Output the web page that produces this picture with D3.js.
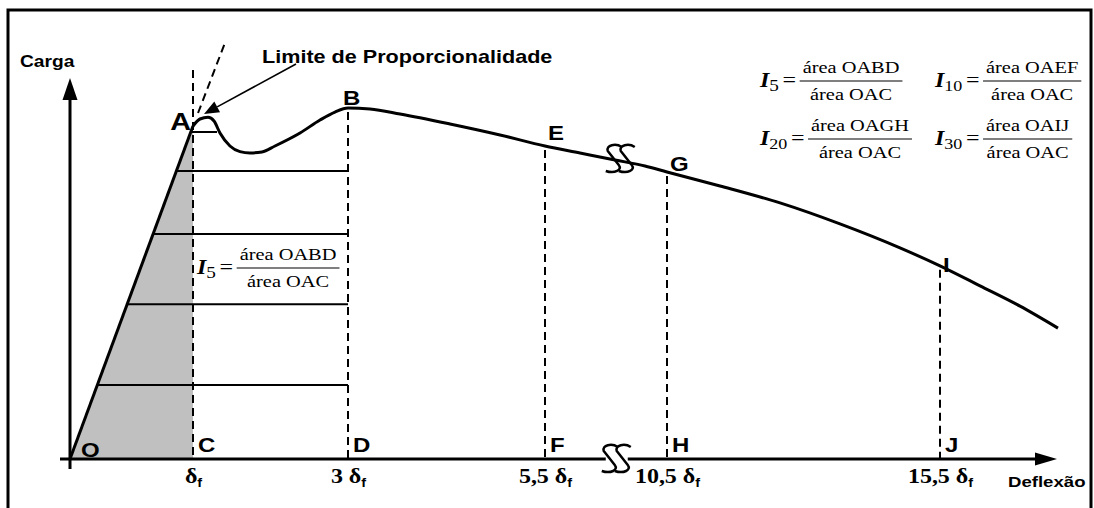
<!DOCTYPE html>
<html><head><meta charset="utf-8">
<script src="https://cdn.jsdelivr.net/npm/d3@7"></script>
<style>
html,body{margin:0;padding:0;background:#fff;}
svg{display:block;}
</style></head><body>
<svg id="chart" width="1094" height="508"></svg>
<script>
// Load–deflection curve: deflection in multiples of δf, load in % of the first-crack load (point A)
const curveDefl = [0, 1, 1.09, 1.194, 1.271, 1.348, 1.477, 1.606, 1.735, 1.89, 2.058, 2.381, 2.639, 2.832, 3,
  3.279, 3.66, 4.294, 4.929, 5.5, 6.934, 8.369, 9.598, 10.5, 11.471, 12.57, 13.668, 14.767, 15.5, 16.233, 16.966, 17.661];
const curveLoad = [0, 100, 102.1, 102.6, 101.5, 97.9, 94.0, 92.3, 91.9, 92.2, 94.0, 97.9, 101.8, 104.2, 105.4,
  105.1, 103.6, 100.6, 97.3, 94.0, 91.9, 89.8, 88.0, 86.2, 82.0, 76.9, 70.6, 63.4, 58.0, 52.0, 45.9, 39.3];

// Deflection marks on the axis
const tickValues = [1, 3, 5.5, 10.5, 15.5];
const tickNumbers = ["", "3", "5,5", "10,5", "15,5"];
const baseLetters = ["C", "D", "F", "H", "J"];
const curveLetters = ["A", "B", "E", "G", "I"];

// Horizontal hatching of the area under the curve (load levels) and their right ends
const hatchLoads = [22.2, 46.5, 67.6, 86.5, 98.2];
const hatchEnds = [3, 3, 3, 3, 1.31];

// Dashed extension of the linear branch and the "limit of proportionality" pointer
const tangentDefl = [1.065, 1.426];
const tangentLoad = [103.9, 125.8];
const pointerDefl = [2.329, 1.142];
const pointerLoad = [118.6, 103.6];
const breakDefl = 8.4;
const cTopLoad = 116.8;

// Toughness index definitions
const indexSubs = ["5", "10", "20", "30"];
const indexNums = ["área OABD", "área OAEF", "área OAGH", "área OAIJ"];
const indexDen = "área OAC";

const SX = 1.2;              // horizontal stretch of lettering
const SANS = "'Liberation Sans', Arial, sans-serif";
const SERIF = "'Liberation Serif', 'Times New Roman', serif";

const svg = d3.select("#chart");
const x = d3.scaleLinear().domain([0, 1, 3, 5.5, 10.5, 15.5, 18]).range([70, 193, 348, 545, 667, 940, 1076.5]);
const y = d3.scaleLinear().domain([0, 100]).range([459, 126]);

const pts = curveDefl.map((d, i) => [d, curveLoad[i]]);
const loadAt = d => curveLoad[curveDefl.indexOf(d)];
// linear branch O-A: deflection proportional to load
const linDefl = load => load / curveLoad[1] * curveDefl[1];

function label(parent, px, py, str, font, size, weight, anchor) {
  const g = parent.append("g").attr("transform", `translate(${px},${py}) scale(${SX},1)`);
  return g.append("text")
    .attr("text-anchor", anchor || "start")
    .style("font-family", font).style("font-size", size + "px").style("font-weight", weight || "normal")
    .text(str);
}

// frame
svg.append("path").attr("d", "M8,512 V10 H1091 V512").attr("fill", "none").attr("stroke", "#000").attr("stroke-width", 3);

// shaded triangle OAC
svg.append("path")
  .attr("d", d3.line()([[x(0), y(0)], [x(1), y(loadAt(1))], [x(1), y(0)]]) + "Z")
  .attr("fill", "#c0c0c0");

// hatching lines
svg.append("g").selectAll("line").data(hatchLoads).join("line")
  .attr("x1", d => x(linDefl(d))).attr("x2", (d, i) => x(hatchEnds[i]))
  .attr("y1", d => y(d)).attr("y2", d => y(d))
  .attr("stroke", "#000").attr("stroke-width", 2);

// dashed verticals
svg.append("g").selectAll("line").data(tickValues).join("line")
  .attr("x1", d => x(d)).attr("x2", d => x(d))
  .attr("y1", (d, i) => i === 0 ? y(cTopLoad) : y(loadAt(d)) + 4)
  .attr("y2", y(0))
  .attr("stroke", "#000").attr("stroke-width", 2).attr("stroke-dasharray", "8,5");

// dashed extension of the linear branch
svg.append("line")
  .attr("x1", x(tangentDefl[0])).attr("y1", y(tangentLoad[0]))
  .attr("x2", x(tangentDefl[1])).attr("y2", y(tangentLoad[1]))
  .attr("stroke", "#000").attr("stroke-width", 2).attr("stroke-dasharray", "8,5");

// linear branch O-A and the rest of the curve
svg.append("path").attr("d", d3.line().x(d => x(d[0])).y(d => y(d[1]))(pts.slice(0, 2)))
  .attr("fill", "none").attr("stroke", "#000").attr("stroke-width", 3);
svg.append("path").attr("d", d3.line().x(d => x(d[0])).y(d => y(d[1])).curve(d3.curveMonotoneX)(pts.slice(1)))
  .attr("fill", "none").attr("stroke", "#000").attr("stroke-width", 3).attr("stroke-linejoin", "round");

// axes
const axG = svg.append("g");
const x0 = x(0), yBase = y(0), xb = x(breakDefl);
const xTip = 1057, xHead = 1035, yTip = 78, yHead = 100;
axG.append("line").attr("x1", x0 - 10).attr("x2", xb - 10).attr("y1", yBase).attr("y2", yBase).attr("stroke", "#000").attr("stroke-width", 3);
axG.append("line").attr("x1", xb + 12).attr("x2", xHead).attr("y1", yBase).attr("y2", yBase).attr("stroke", "#000").attr("stroke-width", 3);
axG.append("path").attr("d", `M${xTip},${yBase} L${xHead},${yBase - 6.5} L${xHead},${yBase + 6.5} Z`);
axG.append("line").attr("x1", x0).attr("x2", x0).attr("y1", yBase + 10).attr("y2", yHead).attr("stroke", "#000").attr("stroke-width", 3);
axG.append("path").attr("d", `M${x0},${yTip} L${x0 - 7.5},${yHead} L${x0 + 7.5},${yHead} Z`);

// axis break marks (two S-shaped strokes)
const sPath = "M8,-12 C2,-16 -8,-14 -6,-8 L5,6 C9,11 1,15 -8,12";
function breakMark(cx, cy) {
  [-6, 7].forEach(o => svg.append("path").attr("d", sPath)
    .attr("transform", `translate(${cx + o},${cy})`)
    .attr("fill", "none").attr("stroke", "#000").attr("stroke-width", 2.5).attr("stroke-linejoin", "round"));
}
breakMark(xb, yBase);
breakMark(xb + 4, y(curveLoad[curveDefl.indexOf(8.369)]) - 1);

// tick labels
const xAxis = d3.axisBottom(x).tickValues(tickValues).tickSize(0);
const tg = svg.append("g").attr("transform", `translate(0,${yBase})`).call(xAxis);
tg.select(".domain").remove();
tg.selectAll(".tick text").each(function (d, i) {
  const t = d3.select(this).text(null).attr("y", 24).attr("dy", null)
    .attr("transform", `scale(${SX},1)`).attr("fill", "#000")
    .style("font-family", SERIF).style("font-size", "20px").style("font-weight", "bold");
  t.append("tspan").text((tickNumbers[i] ? tickNumbers[i] + " " : "") + "δ");
  t.append("tspan").attr("dy", 4).style("font-family", SANS).style("font-size", "12px").text("f");
});

// point letters
curveLetters.forEach((s, i) => {
  const d = tickValues[i], px = x(d), py = y(loadAt(d));
  const off = [[-2, 4, "end", 24], [-5, -3, "start", 20], [3, -6, "start", 20], [3, -1, "start", 20], [3, 6, "start", 20]][i];
  label(svg, px + off[0], py + off[1], s, SANS, off[3], "bold", off[2]);
});
baseLetters.forEach((s, i) => label(svg, x(tickValues[i]) + 5, yBase - 7, s, SANS, 20, "bold"));
label(svg, x(0) + 11, yBase - 2, "O", SANS, 20, "bold");

// axis titles
label(svg, 20, 67, "Carga", SANS, 16, "bold");
label(svg, 1008, 487, "Deflexão", SANS, 15.5, "bold");

// limit of proportionality pointer
const p0 = [x(pointerDefl[0]), y(pointerLoad[0])], p1 = [x(pointerDefl[1]), y(pointerLoad[1])];
const ang = Math.atan2(p1[1] - p0[1], p1[0] - p0[0]);
const hl = 15, hw = 6;
const hb = [p1[0] - hl * Math.cos(ang), p1[1] - hl * Math.sin(ang)];
svg.append("line").attr("x1", p0[0]).attr("y1", p0[1]).attr("x2", hb[0]).attr("y2", hb[1]).attr("stroke", "#000").attr("stroke-width", 1.6);
svg.append("path").attr("d",
  `M${p1[0]},${p1[1]} L${hb[0] - hw * Math.sin(ang)},${hb[1] + hw * Math.cos(ang)} L${hb[0] + hw * Math.sin(ang)},${hb[1] - hw * Math.cos(ang)} Z`);
label(svg, p0[0] - 34, p0[1] - 1, "Limite de Proporcionalidade", SANS, 18, "bold");

// toughness index formulas
function formula(px, py, sub, num, den, fs) {
  const g = svg.append("g").attr("transform", `translate(${px},${py}) scale(${SX},1)`);
  const t = g.append("text").attr("y", 6).style("font-family", SERIF).style("font-size", (fs + 3) + "px");
  t.append("tspan").style("font-weight", "bold").style("font-style", "italic").text("I");
  t.append("tspan").attr("dy", 4).style("font-size", (sub.length > 1 ? fs - 2 : fs - 1) + "px").text(sub);
  t.append("tspan").attr("dy", -4).attr("dx", 3).text("=");
  const fx = t.node().getComputedTextLength() + 6;
  const nt = g.append("text").attr("y", -8).style("font-family", SERIF).style("font-size", fs + "px").text(num);
  const dt = g.append("text").attr("y", 19).style("font-family", SERIF).style("font-size", fs + "px").text(den);
  const fw = Math.max(nt.node().getComputedTextLength(), dt.node().getComputedTextLength()) + 5;
  nt.attr("x", fx + fw / 2).attr("text-anchor", "middle");
  dt.attr("x", fx + fw / 2).attr("text-anchor", "middle");
  g.append("line").attr("x1", fx).attr("x2", fx + fw).attr("y1", 0).attr("y2", 0).attr("stroke", "#000").attr("stroke-width", 1.2);
}
formula(760, 81, indexSubs[0], indexNums[0], indexDen, 17);
formula(935, 81, indexSubs[1], indexNums[1], indexDen, 17);
formula(760, 139, indexSubs[2], indexNums[2], indexDen, 17);
formula(935, 139, indexSubs[3], indexNums[3], indexDen, 17);
formula(197, 268, indexSubs[0], indexNums[0], indexDen, 17);
</script>
</body></html>
